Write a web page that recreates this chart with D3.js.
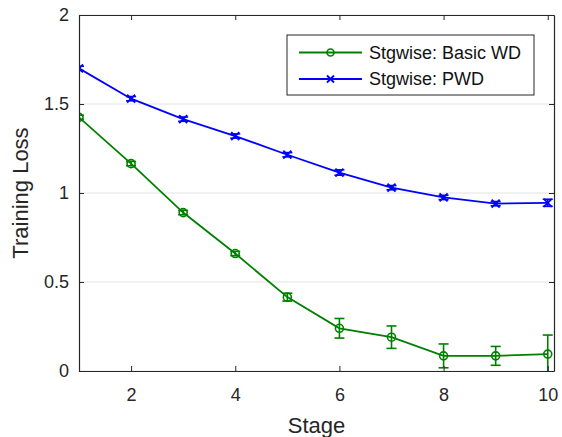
<!DOCTYPE html>
<html lang="en">
<head>
<meta charset="UTF-8" />
<title>Training Loss</title>
<script src="https://d3js.org/d3.v7.min.js"></script>
<style>
  body { margin: 0; background: #fff; }
  svg { font-family: "Liberation Sans", Arial, sans-serif; }
</style>
</head>
<body>
<div id="chart"></div>
<script>
const stages = [1, 2, 3, 4, 5, 6, 7, 8, 9, 10];
const basicWD = [1.425, 1.165, 0.89, 0.66, 0.415, 0.24, 0.19, 0.085, 0.085, 0.095];
const basicWDErr = [0.012, 0.012, 0.012, 0.012, 0.022, 0.055, 0.063, 0.067, 0.053, 0.107];
const pwd = [1.70, 1.53, 1.415, 1.32, 1.215, 1.115, 1.03, 0.975, 0.94, 0.945];
const pwdErr = [0.012, 0.012, 0.012, 0.012, 0.012, 0.015, 0.012, 0.012, 0.012, 0.02];
const xTicks = [2, 4, 6, 8, 10];
const yTicks = [0, 0.5, 1, 1.5, 2];
const seriesNames = ["Stgwise: Basic WD", "Stgwise: PWD"];

const width = 562, height = 437;
const margin = { top: 15, right: 8, bottom: 66, left: 79 };
const w = width - margin.left - margin.right;
const h = height - margin.top - margin.bottom;

const svg = d3.select("#chart").append("svg")
  .attr("width", width).attr("height", height);
const g = svg.append("g").attr("transform", `translate(${margin.left},${margin.top})`);

const x = d3.scaleLinear().domain([1, 10.12]).range([0, w]);
const y = d3.scaleLinear().domain([0, 2]).range([h, 0]);

// gridlines
g.append("g").selectAll("line").data(yTicks).join("line")
  .attr("x1", 0).attr("x2", w)
  .attr("y1", d => y(d)).attr("y2", d => y(d))
  .attr("stroke", "#e3e3e3").attr("stroke-width", 1);

g.append("clipPath").attr("id", "clip")
  .append("rect").attr("width", w).attr("height", h);

const series = [
  { name: seriesNames[0], values: basicWD, err: basicWDErr, color: "#008000", marker: "o" },
  { name: seriesNames[1], values: pwd, err: pwdErr, color: "#0000ff", marker: "x" }
];

function drawMarker(sel, type, color) {
  if (type === "o") {
    sel.append("circle").attr("r", 4)
      .attr("fill", "none").attr("stroke", color).attr("stroke-width", 1.6);
  } else {
    sel.append("path").attr("d", "M-4,-4L4,4M-4,4L4,-4")
      .attr("stroke", color).attr("stroke-width", 1.8);
  }
}

const plot = g.append("g").attr("clip-path", "url(#clip)");
series.forEach(s => {
  const pts = stages.map((st, i) => ({ x: st, y: s.values[i], e: s.err[i] }));
  plot.append("path").datum(pts)
    .attr("fill", "none").attr("stroke", s.color).attr("stroke-width", 1.8)
    .attr("d", d3.line().x(d => x(d.x)).y(d => y(d.y)));
  const eb = plot.append("g").selectAll("g").data(pts).join("g")
    .attr("stroke", s.color).attr("stroke-width", 1.6);
  eb.append("line")
    .attr("x1", d => x(d.x)).attr("x2", d => x(d.x))
    .attr("y1", d => y(d.y - d.e)).attr("y2", d => y(d.y + d.e));
  eb.append("line")
    .attr("x1", d => x(d.x) - 5).attr("x2", d => x(d.x) + 5)
    .attr("y1", d => y(d.y - d.e)).attr("y2", d => y(d.y - d.e));
  eb.append("line")
    .attr("x1", d => x(d.x) - 5).attr("x2", d => x(d.x) + 5)
    .attr("y1", d => y(d.y + d.e)).attr("y2", d => y(d.y + d.e));
  const mk = plot.append("g").selectAll("g").data(pts).join("g")
    .attr("transform", d => `translate(${x(d.x)},${y(d.y)})`);
  mk.each(function () { drawMarker(d3.select(this), s.marker, s.color); });
});

// axes (box with inward ticks)
const axisColor = "#262626";
function styleAxis(a) {
  a.select(".domain").attr("stroke", axisColor).attr("stroke-width", 1.2);
  a.selectAll(".tick line").attr("stroke", axisColor);
  a.selectAll(".tick text").attr("fill", axisColor).attr("font-size", 18)
    .attr("font-family", "Liberation Sans, Arial, sans-serif");
}
const xb = g.append("g").attr("transform", `translate(0,${h})`)
  .call(d3.axisBottom(x).tickValues(xTicks).tickSizeInner(-5).tickSizeOuter(0).tickPadding(17));
styleAxis(xb);
const xt = g.append("g")
  .call(d3.axisTop(x).tickValues(xTicks).tickSizeInner(-5).tickSizeOuter(0).tickFormat(""));
styleAxis(xt);
const yl = g.append("g")
  .call(d3.axisLeft(y).tickValues(yTicks).tickSizeInner(-5).tickSizeOuter(0).tickPadding(10).tickFormat(d3.format("")));
styleAxis(yl);
const yr = g.append("g").attr("transform", `translate(${w},0)`)
  .call(d3.axisRight(y).tickValues(yTicks).tickSizeInner(-5).tickSizeOuter(0).tickFormat(""));
styleAxis(yr);

// axis labels
svg.append("text").attr("x", margin.left + w / 2).attr("y", 433)
  .attr("text-anchor", "middle").attr("font-size", 22).attr("fill", axisColor)
  .text("Stage");
svg.append("text").attr("transform", `translate(28,${margin.top + h / 2}) rotate(-90)`)
  .attr("text-anchor", "middle").attr("font-size", 22).attr("fill", axisColor)
  .text("Training Loss");

// legend
const lg = svg.append("g").attr("transform", "translate(287,35)");
lg.append("rect").attr("width", 247).attr("height", 60)
  .attr("fill", "#fff").attr("stroke", axisColor).attr("stroke-width", 1);
series.forEach((s, i) => {
  const ly = 17.5 + i * 26.5;
  lg.append("line").attr("x1", 12).attr("x2", 75).attr("y1", ly).attr("y2", ly)
    .attr("stroke", s.color).attr("stroke-width", 1.8);
  const m = lg.append("g").attr("transform", `translate(43.5,${ly})`);
  if (s.marker === "o") {
    m.append("circle").attr("r", 3.5).attr("fill", "none")
      .attr("stroke", s.color).attr("stroke-width", 1.6);
  } else {
    m.append("path").attr("d", "M-3.5,-3.5L3.5,3.5M-3.5,3.5L3.5,-3.5")
      .attr("stroke", s.color).attr("stroke-width", 1.8);
  }
  lg.append("text").attr("x", 82).attr("y", ly).attr("dy", "0.35em")
    .attr("font-size", 18).attr("fill", "#111").text(s.name);
});
</script>
</body>
</html>
